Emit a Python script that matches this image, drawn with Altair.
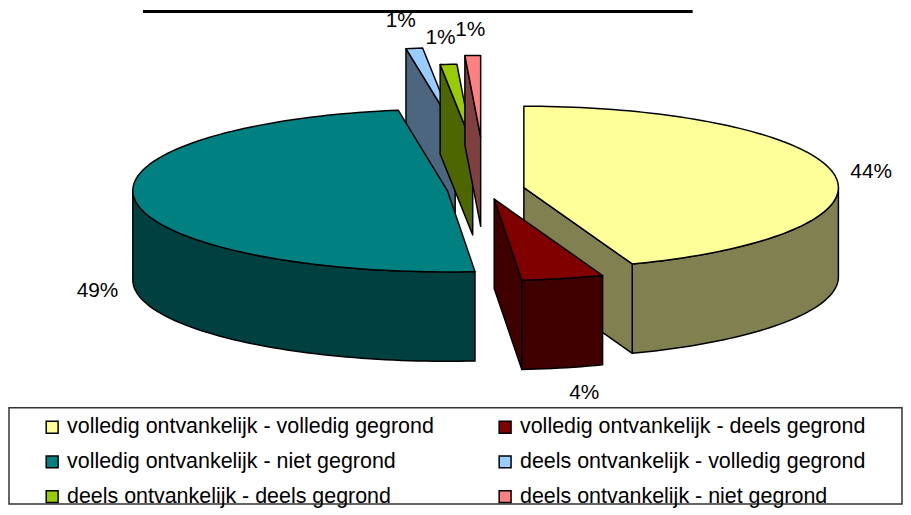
import math
import altair as alt
import pandas as pd

# ---------------- data ----------------
CATEGORIES = [
    "volledig ontvankelijk - volledig gegrond",
    "volledig ontvankelijk - deels gegrond",
    "volledig ontvankelijk - niet gegrond",
    "deels ontvankelijk - volledig gegrond",
    "deels ontvankelijk - deels gegrond",
    "deels ontvankelijk - niet gegrond",
]
VALUES = [44.4, 4.2, 48.9, 0.85, 0.85, 0.8]

# ---------------- styles ----------------
TOP_COLORS = ["#FFFF99", "#800000", "#008080", "#99CCFF", "#99CC00", "#FF8080"]
SIDE_COLORS = ["#808050", "#400000", "#004040", "#4D6680", "#4D6600", "#804040"]
EXPLODE = [0.123, 0.123, 0.123, 0.748, 0.540, 0.645]   # explosion, in pie radii
DRAW_ORDER = [3, 4, 5, 2, 0, 1]                        # back to front
TILT = 0.2587        # vertical / horizontal radius of the tilted pie
DEPTH = 0.284        # thickness, in pie radii
RADIUS_PX = 317
CENTER_PX = [480.5, 180.8]
FONT = "Liberation Sans"

# ---------------- geometry of the 3-D pie (derived from VALUES) ----------------
total = sum(VALUES)
starts, ends, acc = [], [], 0.0
for v in VALUES:
    starts.append(360.0 * acc / total)
    acc += v
    ends.append(360.0 * acc / total)


def pt(cx, cy, phi, r=1.0, dz=0.0):
    rad = math.radians(phi)
    return [cx + r * math.sin(rad), cy - TILT * r * math.cos(rad) + dz]


def arc(cx, cy, a0, a1, dz=0.0):
    steps = max(2, int(abs(a1 - a0) / 1.5) + 2)
    return [pt(cx, cy, a0 + (a1 - a0) * k / (steps - 1), dz=dz) for k in range(steps)]


def feature(ring, fill, name, face):
    ring = ring + [ring[0]]
    return {
        "type": "Feature",
        "properties": {"fill": fill, "slice": name, "face": face},
        "geometry": {"type": "Polygon", "coordinates": [ring]},
    }


features = []
label_rows = []
for i in DRAW_ORDER:
    s, e = starts[i], ends[i]
    mid = (s + e) / 2
    cx = EXPLODE[i] * math.sin(math.radians(mid))
    cy = -TILT * EXPLODE[i] * math.cos(math.radians(mid))
    c_top = [cx, cy]
    c_bot = [cx, cy + DEPTH]
    # outer (cylindrical) face, front half only
    lo, hi = max(s, 90.0), min(e, 270.0)
    if hi > lo:
        ring = arc(cx, cy, lo, hi) + arc(cx, cy, hi, lo, dz=DEPTH)
        features.append(feature(ring, SIDE_COLORS[i], CATEGORIES[i], "outer"))
    # radial cut faces
    if math.cos(math.radians(s - 90)) < -1e-6:
        p, q = pt(cx, cy, s), pt(cx, cy, s, dz=DEPTH)
        features.append(feature([c_top, p, q, c_bot], SIDE_COLORS[i], CATEGORIES[i], "start"))
    if math.cos(math.radians(e + 90)) < -1e-6:
        p, q = pt(cx, cy, e), pt(cx, cy, e, dz=DEPTH)
        features.append(feature([c_top, p, q, c_bot], SIDE_COLORS[i], CATEGORIES[i], "end"))
    # top face
    ring = [c_top] + arc(cx, cy, s, e)
    features.append(feature(ring, TOP_COLORS[i], CATEGORIES[i], "top"))

    # data label
    front = math.cos(math.radians(mid)) < 0
    ex, ey = pt(cx, cy, mid, dz=DEPTH if front else 0.0)
    ux, uy = math.sin(math.radians(mid)), -TILT * math.cos(math.radians(mid))
    n = math.hypot(ux, uy)
    ux, uy = ux / n, uy / n
    d = (24 + 14 * abs(ux)) / RADIUS_PX
    label_rows.append({"lx": ex + ux * d, "ly": ey + uy * d,
                       "label": f"{round(VALUES[i])}%"})

label_df = pd.DataFrame(label_rows)
proj = dict(type="identity", scale=RADIUS_PX, translate=CENTER_PX)

pie = alt.Chart(alt.Data(values=features)).mark_geoshape(
    stroke="black", strokeWidth=1.5, strokeJoin="round"
).encode(
    color=alt.Color("properties.fill:N", scale=None)
).project(**proj)

labels = alt.Chart(label_df).mark_text(
    font=FONT, fontSize=21, color="black", align="center", baseline="middle"
).encode(
    longitude="lx:Q", latitude="ly:Q", text="label:N"
).project(**proj)

underline = alt.Chart(pd.DataFrame({"t": [0]})).mark_rule(
    color="black", strokeWidth=3
).encode(x=alt.value(135), x2=alt.value(689), y=alt.value(1.5))

top = alt.layer(pie, labels, underline).properties(width=900, height=400)

# ---------------- legend box ----------------
leg_df = pd.DataFrame({
    "cat": CATEGORIES,
    "color": TOP_COLORS,
    "col": [k % 2 for k in range(len(CATEGORIES))],
    "row": [k // 2 for k in range(len(CATEGORIES))],
})
xs = alt.X("col:O", scale=alt.Scale(type="point", range=[43.5, 500], padding=0), axis=None)
ys = alt.Y("row:O", scale=alt.Scale(type="point", range=[19.5, 89.5], padding=0), axis=None)

swatch = alt.Chart(leg_df).mark_square(
    size=144, stroke="black", strokeWidth=1.5, opacity=1
).encode(x=xs, y=ys, fill=alt.Fill("color:N", scale=None))

legend_text = alt.Chart(leg_df).mark_text(
    align="left", baseline="middle", dx=15, font=FONT, fontSize=21.6, color="black"
).encode(x=xs, y=ys, text="cat:N")

legend = alt.layer(swatch, legend_text).properties(
    width=900, height=97,
    view=alt.ViewBackground(stroke="#333333", strokeWidth=1.5),
)

chart = alt.vconcat(top, legend, spacing=0).properties(
    padding=0, background="white"
).configure_view(strokeWidth=0)

chart.save("out.html", embed_options={"renderer": "svg", "actions": False})
